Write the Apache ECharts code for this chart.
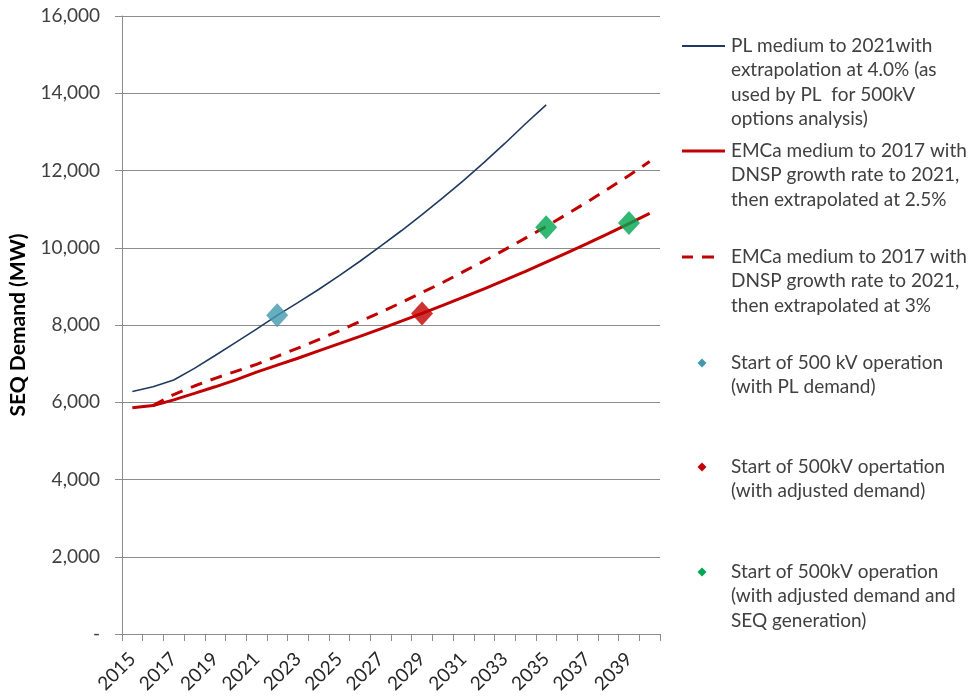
<!DOCTYPE html>
<html>
<head>
<meta charset="utf-8">
<script src="https://cdn.jsdelivr.net/npm/echarts@6/dist/echarts.min.js"></script>
<style>
  html, body { margin: 0; padding: 0; background: #ffffff; }
  #chart { width: 968px; height: 699px; }
</style>
</head>
<body>
<div id="chart"></div>
<script>
// Years on the category axis
const years = ['2015','2016','2017','2018','2019','2020','2021','2022','2023','2024','2025','2026','2027',
               '2028','2029','2030','2031','2032','2033','2034','2035','2036','2037','2038','2039','2040'];

// PL medium forecast to 2021, extrapolated at 4.0% (MW)
const plDemand = [6280, 6400, 6575, 6876, 7210, 7549, 7893, 8250, 8580, 8920, 9280, 9650, 10040,
                  10440, 10860, 11290, 11740, 12210, 12700, 13210, 13700, null, null, null, null, null];

// EMCa medium, extrapolated at 2.5% (MW)
const emca25 = [5855, 5914, 6062, 6230, 6400, 6580, 6780, 6960, 7140, 7330, 7519, 7707, 7900,
                8098, 8300, 8508, 8720, 8938, 9162, 9391, 9626, 9866, 10113, 10366, 10625, 10890];

// EMCa medium, extrapolated at 3% (MW)
const emca3 = [null, 5914, 6200, 6420, 6620, 6800, 6980, 7190, 7400, 7620, 7850, 8090, 8330,
               8580, 8840, 9100, 9380, 9660, 9950, 10250, 10550, 10870, 11190, 11530, 11870, 12230];

// Start of 500 kV operation points [year, MW]
const startPL = [['2022', 8250]];
const startAdjusted = [['2029', 8300]];
const startAdjustedGen = [['2035', 10530], ['2039', 10640]];

// Y axis ticks
const yMin = 0, yMax = 16000, yStep = 2000;

const seriesNames = [
  'PL medium to 2021with\nextrapolation at 4.0% (as\nused by PL  for 500kV\noptions analysis)',
  'EMCa medium to 2017 with\nDNSP growth rate to 2021,\nthen extrapolated at 2.5%',
  'EMCa medium to 2017 with\nDNSP growth rate to 2021,\nthen extrapolated at 3%',
  'Start of 500 kV operation\n(with PL demand)',
  'Start of 500kV opertation\n(with adjusted demand)',
  'Start of 500kV operation\n(with adjusted demand and\nSEQ generation)'
];

const COL_NAVY = '#1F3A60';
const COL_RED = '#C00000';
const COL_AQUA = '#4198AF';
const COL_GREEN = '#00A651';
const TEXT = '#404040';
const GRID = '#8C8C8C';
const FONT = 'Lato, "Open Sans", sans-serif';

const chart = echarts.init(document.getElementById('chart'), null, { renderer: 'canvas' });

// Legend block drawn on the right: icon rows aligned with each entry's first line
const legendRows = [
  { kind: 'line', color: COL_NAVY, width: 1.8, y: 46, name: seriesNames[0] },
  { kind: 'line', color: COL_RED, width: 3, y: 151, name: seriesNames[1] },
  { kind: 'dash', color: COL_RED, width: 3, y: 257, name: seriesNames[2] },
  { kind: 'diamond', color: COL_AQUA, y: 363, name: seriesNames[3] },
  { kind: 'diamond', color: COL_RED, y: 467, name: seriesNames[4] },
  { kind: 'diamond', color: COL_GREEN, y: 572, name: seriesNames[5] }
];

const legendGraphics = [];
legendRows.forEach(function (r) {
  if (r.kind === 'line') {
    legendGraphics.push({ type: 'line', shape: { x1: 682, y1: r.y, x2: 725, y2: r.y },
      style: { stroke: r.color, lineWidth: r.width } });
  } else if (r.kind === 'dash') {
    legendGraphics.push({ type: 'line', shape: { x1: 682, y1: r.y, x2: 693, y2: r.y },
      style: { stroke: r.color, lineWidth: r.width } });
    legendGraphics.push({ type: 'line', shape: { x1: 702, y1: r.y, x2: 714, y2: r.y },
      style: { stroke: r.color, lineWidth: r.width } });
  } else {
    legendGraphics.push({ type: 'polygon',
      shape: { points: [[702, r.y - 4.5], [706.5, r.y], [702, r.y + 4.5], [697.5, r.y]] },
      style: { fill: r.color } });
  }
  legendGraphics.push({ type: 'text', x: 731, y: r.y - 12,
    style: { text: r.name, font: '19px ' + FONT, fill: TEXT, lineHeight: 24.2, verticalAlign: 'top' } });
});

const option = {
  backgroundColor: '#ffffff',
  animation: false,
  grid: { left: 120, right: 308, top: 16, bottom: 65, containLabel: false },
  xAxis: {
    type: 'category',
    data: years,
    boundaryGap: true,
    axisLine: { show: true, lineStyle: { color: GRID, width: 1 } },
    axisTick: { show: true, alignWithLabel: false, interval: 0, length: 7, lineStyle: { color: GRID } },
    axisLabel: { interval: 1, rotate: 45, margin: 22, color: '#262626', fontFamily: FONT, fontSize: 19 },
    splitLine: { show: false }
  },
  yAxis: {
    type: 'value',
    min: yMin, max: yMax, interval: yStep,
    name: 'SEQ Demand (MW)',
    nameLocation: 'middle',
    nameGap: 93,
    nameRotate: 90,
    nameTextStyle: { fontFamily: FONT, fontSize: 21, fontWeight: 'bold', color: '#000000' },
    axisLine: { show: true, lineStyle: { color: GRID, width: 1 } },
    axisTick: { show: true, inside: false, length: 7, lineStyle: { color: GRID } },
    axisLabel: {
      margin: 22, color: TEXT, fontFamily: FONT, fontSize: 19,
      formatter: function (v) { return v === 0 ? '-' : v.toLocaleString('en-US'); }
    },
    splitLine: { show: true, lineStyle: { color: GRID, width: 1 } }
  },
  series: [
    { name: seriesNames[0], type: 'line', data: plDemand, symbol: 'none', connectNulls: false,
      lineStyle: { color: COL_NAVY, width: 1.6 }, z: 3 },
    { name: seriesNames[1], type: 'line', data: emca25, symbol: 'none',
      lineStyle: { color: COL_RED, width: 3 }, z: 3 },
    { name: seriesNames[2], type: 'line', data: emca3, symbol: 'none',
      lineStyle: { color: COL_RED, width: 3, type: [12, 9] }, z: 3 },
    { name: seriesNames[3], type: 'scatter', data: startPL, symbol: 'diamond', symbolSize: [22, 24],
      itemStyle: { color: COL_AQUA }, z: 5 },
    { name: seriesNames[4], type: 'scatter', data: startAdjusted, symbol: 'diamond', symbolSize: [22, 24],
      itemStyle: { color: COL_RED }, z: 5 },
    { name: seriesNames[5], type: 'scatter', data: startAdjustedGen, symbol: 'diamond', symbolSize: [22, 24],
      itemStyle: { color: COL_GREEN }, z: 5 }
  ],
  graphic: legendGraphics
};

chart.setOption(option);
</script>
</body>
</html>
